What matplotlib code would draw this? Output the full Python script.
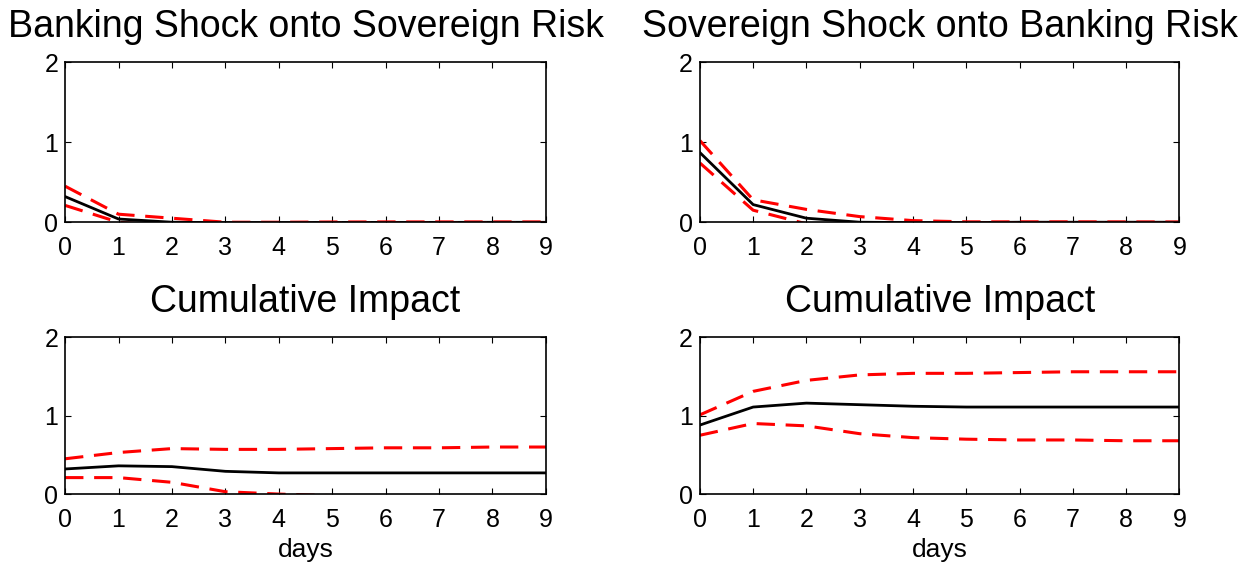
import matplotlib
matplotlib.use("Agg")
import matplotlib.pyplot as plt

plt.rcParams['font.family'] = ['Liberation Sans', 'DejaVu Sans']

days = list(range(10))

# Banking shock onto sovereign risk
bank_irf = [0.32, 0.04, 0.0, -0.005, -0.005, -0.003, -0.002, -0.002, -0.001, -0.001]
bank_irf_hi = [0.45, 0.10, 0.05, 0.0, 0.0, 0.003, 0.004, 0.004, 0.004, 0.004]
bank_irf_lo = [0.21, 0.0, -0.05, -0.03, -0.02, -0.01, -0.01, -0.01, -0.01, -0.01]
bank_cum = [0.32, 0.36, 0.35, 0.29, 0.27, 0.27, 0.27, 0.27, 0.27, 0.27]
bank_cum_hi = [0.45, 0.53, 0.58, 0.57, 0.57, 0.58, 0.59, 0.59, 0.60, 0.60]
bank_cum_lo = [0.21, 0.21, 0.15, 0.03, 0.0, -0.02, -0.03, -0.03, -0.03, -0.03]

# Sovereign shock onto banking risk
sov_irf = [0.87, 0.22, 0.05, 0.0, -0.005, -0.005, 0.0, 0.0, 0.0, 0.0]
sov_irf_hi = [1.02, 0.28, 0.16, 0.07, 0.02, 0.005, 0.005, 0.005, 0.004, 0.003]
sov_irf_lo = [0.74, 0.15, -0.02, -0.05, -0.03, -0.01, -0.01, -0.01, -0.01, -0.01]
sov_cum = [0.88, 1.11, 1.16, 1.14, 1.12, 1.11, 1.11, 1.11, 1.11, 1.11]
sov_cum_hi = [1.01, 1.31, 1.45, 1.52, 1.54, 1.54, 1.55, 1.56, 1.56, 1.56]
sov_cum_lo = [0.75, 0.90, 0.87, 0.77, 0.72, 0.70, 0.69, 0.69, 0.68, 0.68]

titles = ["Banking Shock onto Sovereign Risk", "Sovereign Shock onto Banking Risk",
          "Cumulative Impact", "Cumulative Impact"]
panels = [(bank_irf, bank_irf_hi, bank_irf_lo), (sov_irf, sov_irf_hi, sov_irf_lo),
          (bank_cum, bank_cum_hi, bank_cum_lo), (sov_cum, sov_cum_hi, sov_cum_lo)]

fig = plt.figure(figsize=(12.52, 5.64), dpi=100)
rects = [[0.052, 0.606, 0.384, 0.284], [0.559, 0.606, 0.383, 0.284],
         [0.052, 0.124, 0.384, 0.278], [0.559, 0.124, 0.383, 0.278]]

for i, (rect, (mid, hi, lo)) in enumerate(zip(rects, panels)):
    ax = fig.add_axes(rect)
    ax.plot(days, mid, color='black', lw=2)
    ax.plot(days, hi, color='red', lw=2.2, dashes=(6, 3.5))
    ax.plot(days, lo, color='red', lw=2.2, dashes=(6, 3.5))
    ax.set_xlim(0, 9)
    ax.set_ylim(0, 2)
    ax.set_xticks(days)
    ax.set_yticks([0, 1, 2])
    ax.tick_params(direction='in', top=True, right=True, labelsize=18, length=4, pad=5)
    ax.tick_params(axis='x', pad=10)
    for s in ax.spines.values():
        s.set_linewidth(1.2)
    ax.set_title(titles[i], fontsize=27, pad=18)
    if i >= 2:
        ax.set_xlabel("days", fontsize=19, labelpad=4)

plt.savefig("out.png", dpi=100)
plt.close()
